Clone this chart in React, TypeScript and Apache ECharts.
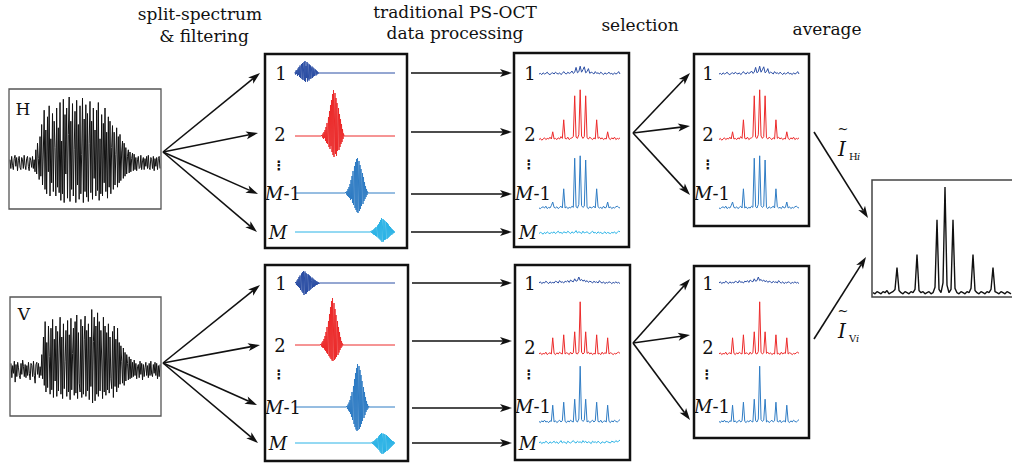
import { useEffect, useRef } from "react";
import * as echarts from "echarts";

const FONT = "DejaVu Serif";
const C_DARK = "#2b4ea4";
const C_RED = "#ec2a2a";
const C_MID = "#2f7cc4";
const C_LIGHT = "#2bb3e6";

// Raw interferogram signals (arbitrary amplitude units)
const H_SIGNAL = [
  3, -5, 6, -2, -6, 4, 7, -3, 5, -7, 2, 6, -4, -6, 5, 3, -5, 7, -2, -6, 4, 6, -3, -7, 5, 2, -4, 6, -5, 3,
  -8, 12, -10, 18, 4, -15, 24, -12,
  35, -20, 10, 48, -24, 30, -28, 42, -8, 52, -30, 22, -18, 45, -26, 38, 14, -30, 50, -22, 32, -27,
  55, -34, 20, -28, 58, -36, 44, -10, 50, -32, 26, 60, -35, 38, -24, 54, -30, 12, 47, -36, 57, -20, 35, -33, 52, -28, 8, 59, -36, 40,
  -26, 53, -31, 45, -35, 18, 56, -27, 38, -33, 50, -14, 30, -30, 48, -25, 55, -34, 22, -28, 44, -30, 36, -18, 50, -26, 28, -32, 42, -22,
  38, -28, 14, 34, -24, 28, -20, 8, 32, -22, 24, -18, 26, -16, 10, 20, -14, 18,
  -12, 14, -10, 6, 12, -9, 10, -8, 4, 9, -7, 8,
  -6, 5, -7, 3, 6, -5, -4, 7, -6, 2, 5, -6, 4, -3, 6, -5, 7, -4, -6, 5, 3, -5, 6, -7, 4, -3, 5, -6, 4, 6, -5,
];
const V_SIGNAL = [
  6, -7, 4, -3, 8, -11, 5, -6, 7, 2, -5, -8, 6, -4, 9, 3, -6, 5, -7, 4, -5, 7, -3, -9, 6, 4, -6, 8, -5, -12, 5, 7, -4, 6, -7, 3, -5,
  14, -8, 30, -14,
  44, -20, 25, -16, 40, 12, -22, 38, -18, 46, -25, 28, -10, 40, -24, 35, -19, 20, 48, -22, 30, -26, 42, -17, 8, 36, -24, 45,
  -20, 32, -27, 47, -18, 15, 38, -23, 44, -21, 50, -26, 34, -12, -20, 46, -25, 40, -22, 28, 49, -24, 36, -19, 42, -27, 30, -15,
  55, -30, 26, 48, -28, 40, -22, 52,
  -24, 44, -19, 36, 10, -26, 48, -20, 40, -23, 34, -18, 42, -21, 30, -8, -17, 35, -25, 40, -15, 28, -20, 38, -16, 25,
  -13, 22, 8, -12, 20, -14, 16, -10, 14, 6, -9, 12, -8, 10, -7,
  7, -6, 9, -5, 6, -8, 3, 5, -7, 8, -4, 6, -9, 5, -6, 2, 7, -5, 4, -7, 6, -5, 8, -4, -6, 5, -3, 7, -5, 6, -8, 4, -6, 5,
];

// Split-spectrum filtered bursts (units: 100 = strongest band), 2 samples per pixel
const A_LEN = 201;
const BURST_T1 = [2, -3, 5, -2, 6, -6, 9, -4, 12, -8, 15, -10, 10, 18, -12, 20, -14, 6, 22, -16, 24, -18, 14, -10, 22, -17, 19, -8, -15, 17, -12, 15, -11, 8, 13, -10, 11, -7, 9, -6, 4, 7, -5, 5, -3, 3, -2, 1];
const BURST_T2 = [2, -3, 5, -6, 8, -4, 12, -10, 18, -14, 26, -16, 10, 38, -22, 50, -26, 62, -20, 72, -32, 84, -38, 92, -42, 30, 86, -36, 76, -40, 66, -30, 20, 56, -28, 44, -22, 34, -16, 24, -12, 14, -6, 5];
const BURST_TM1 = [2, -3, 4, -6, 8, -8, 12, -10, 18, -14, 26, -12, 34, -20, 44, -24, 10, 54, -30, 62, -34, 68, -38, 70, -40, 24, 64, -36, 56, -32, 48, -26, 14, 40, -22, 32, -16, 22, -12, 14, -8, 8, -4, 3];
const BURST_TM = [1, -2, 3, -3, 4, -5, 6, -6, 8, -8, 10, -9, 4, 13, -11, 16, -13, 20, -15, 24, -17, 28, -20, 10, 26, -19, 24, -16, 22, -15, 6, 20, -14, 18, -12, 15, -10, 12, -8, 10, -6, 7, -5, 5, -3, 3, -2, 1];
const BURST_B1 = [2, -4, 5, -6, 8, -8, 12, -10, 15, -14, 6, 19, -17, 22, -20, 24, -24, 10, 23, -22, 20, -21, 18, -18, 8, 17, -16, 15, -14, 13, -12, 5, 11, -10, 9, -8, 7, -7, 6, -5, 4, -4, 3, -3, 2, -2, 1, -1];
const BURST_B2 = [2, -3, 5, -5, 8, -6, 12, -9, 18, -12, 26, -15, 36, -18, 12, 48, -22, 62, -25, 76, -28, 88, -31, 94, -32, 30, 84, -30, 72, -27, 60, -24, 14, 48, -20, 36, -15, 26, -10, 16, -6, 8, -3, 3];
const BURST_BM1 = [2, -4, 5, -7, 9, -10, 14, -14, 22, -20, 30, -26, 10, 42, -34, 56, -40, 68, -45, 78, -48, 86, -46, 20, 82, -44, 74, -40, 64, -34, 52, -28, 12, 40, -22, 30, -16, 20, -10, 12, -6, 6, -3, 2];
const BURST_BM = [1, -2, 3, -3, 4, -5, 6, -7, 8, -9, 10, -11, 4, 13, -14, 16, -17, 18, -20, 20, -22, 8, 19, -21, 18, -19, 17, -18, 6, 16, -16, 14, -14, 12, -12, 10, -10, 8, -8, 6, -6, 4, -4, 3, -2, 1];
const TOP_BURST_START = [0, 54, 102, 152];
const BOT_BURST_START = [2, 52, 104, 154];

// Processed depth profiles (units: 100 = full scale)
const TOP_ROW1 = [5, 6, 4, 7, 5, 6, 8, 5, 4, 6, 7, 5, 8, 6, 5, 7, 4, 6, 9, 6, 5, 8, 6, 7, 10, 6, 8, 16, 7, 9, 18, 8, 12, 17, 7, 9, 14, 6, 8, 7, 5, 9, 6, 7, 5, 8, 6, 4, 7, 5, 6, 8, 5, 6, 4, 7, 5, 6, 9, 5];
const TOP_ROW2 = [4, 6, 3, 5, 7, 4, 6, 5, 8, 5, 17, 5, 6, 4, 7, 5, 9, 6, 37, 6, 5, 8, 4, 6, 7, 9, 77, 8, 6, 12, 87, 10, 6, 9, 77, 7, 5, 8, 6, 4, 7, 5, 37, 6, 8, 5, 7, 4, 6, 5, 17, 6, 4, 7, 5, 8, 4, 6, 5, 7];
const TOP_ROWM1 = [5, 4, 6, 7, 5, 8, 4, 6, 5, 9, 15, 6, 5, 7, 4, 6, 8, 5, 37, 5, 7, 4, 6, 5, 8, 6, 88, 7, 5, 11, 92, 9, 6, 8, 85, 6, 4, 7, 5, 6, 8, 5, 37, 7, 5, 6, 4, 8, 5, 6, 15, 5, 7, 4, 6, 5, 7, 8, 6, 5];
const TOP_ROWM = [4, 6, 5, 3, 6, 4, 7, 5, 4, 6, 5, 7, 4, 6, 8, 5, 6, 4, 7, 6, 5, 8, 6, 4, 7, 5, 6, 9, 5, 7, 6, 4, 8, 5, 6, 7, 5, 4, 6, 8, 5, 6, 4, 7, 5, 6, 4, 5, 7, 4, 6, 5, 4, 6, 5, 7, 4, 6, 8, 7];
const BOT_ROW1 = [5, 7, 4, 6, 5, 8, 6, 4, 7, 5, 6, 5, 8, 7, 5, 9, 6, 7, 5, 8, 7, 9, 6, 10, 8, 7, 12, 8, 9, 15, 9, 11, 8, 10, 7, 9, 6, 8, 7, 5, 8, 6, 7, 5, 9, 6, 5, 7, 4, 6, 5, 7, 6, 4, 6, 5, 7, 5, 6, 4];
const BOT_ROW2 = [5, 7, 4, 6, 5, 8, 4, 6, 7, 5, 32, 6, 4, 7, 5, 8, 6, 5, 37, 5, 7, 6, 4, 8, 5, 7, 42, 6, 5, 9, 92, 8, 5, 7, 42, 6, 8, 5, 7, 4, 6, 5, 37, 5, 6, 4, 8, 5, 7, 6, 32, 5, 7, 6, 4, 6, 5, 7, 8, 6];
const BOT_ROWM1 = [6, 4, 7, 5, 8, 5, 6, 4, 7, 6, 33, 5, 7, 4, 6, 8, 5, 7, 38, 6, 4, 7, 5, 8, 6, 5, 43, 7, 5, 10, 98, 9, 6, 8, 43, 5, 7, 4, 6, 8, 5, 7, 38, 6, 5, 8, 4, 6, 7, 5, 33, 6, 4, 7, 5, 8, 6, 5, 7, 9];
const BOT_ROWM = [5, 7, 4, 6, 5, 8, 6, 4, 7, 5, 6, 8, 5, 7, 4, 6, 9, 5, 7, 6, 4, 8, 6, 5, 7, 9, 6, 5, 8, 6, 7, 5, 9, 6, 8, 5, 7, 6, 4, 8, 6, 7, 5, 8, 6, 4, 7, 6, 5, 8, 7, 6, 5, 8, 7, 6, 9, 7, 8, 10];

// Averaged result
const AVERAGE = [3, 2, 4, 3, 2, 4, 3, 5, 2, 3, 4, 6, 26, 5, 3, 2, 4, 3, 2, 4, 3, 6, 38, 5, 3, 4, 2, 3, 4, 2, 3, 8, 70, 6, 3, 12, 100, 10, 3, 6, 70, 7, 3, 2, 4, 3, 2, 4, 3, 7, 38, 5, 3, 2, 4, 3, 2, 4, 3, 6, 26, 4, 3, 2, 4, 3, 2, 4, 3, 2];

// Labels
const TITLES = ["split-spectrum", "& filtering", "traditional PS-OCT", "data processing", "selection", "average"];
const ROW_LABELS = ["1", "2", "M-1", "M"];

export default function App() {
  const ref = useRef<HTMLDivElement>(null);
  useEffect(() => {
    document.body.style.margin = "0";
    const chart = echarts.init(ref.current!, null, { renderer: "svg" });
    const grid: any[] = [];
    const xAxis: any[] = [];
    const yAxis: any[] = [];
    const series: any[] = [];
    const els: any[] = [];

    const addTrace = (left: number, right: number, top: number, bottom: number, min: number, max: number, values: number[], color: string, width = 1) => {
      const i = grid.length;
      grid.push({ left, top, width: right - left, height: bottom - top, containLabel: false });
      xAxis.push({ type: "value", gridIndex: i, min: 0, max: values.length - 1, show: false });
      yAxis.push({ type: "value", gridIndex: i, min, max, show: false });
      series.push({
        type: "line", xAxisIndex: i, yAxisIndex: i, symbol: "none", silent: true,
        data: values.map((v, k) => [k, v]),
        lineStyle: { color, width },
      });
    };
    const burstTrace = (burst: number[], start: number) =>
      Array.from({ length: A_LEN }, (_, k) => (k >= start && k < start + burst.length ? burst[k - start] : 0));

    const rect = (x1: number, y1: number, x2: number, y2: number, stroke: string, lw: number) => {
      els.push({ type: "rect", z: 50, shape: { x: x1, y: y1, width: x2 - x1, height: y2 - y1 }, style: { fill: "none", stroke, lineWidth: lw } });
    };
    const text = (x: number, y: number, t: string, size: number, extra: any = {}) => {
      els.push({
        type: "text", z: 60, x, y,
        style: {
          text: t, fontSize: size, fontFamily: FONT, fill: "#111",
          align: "center", verticalAlign: "middle", textAlign: "center", textVerticalAlign: "middle",
          ...extra,
        },
      });
    };
    const rowLabel = (x: number, y: number, lab: string) => {
      if (lab === "M-1") {
        text(x, y, "{i|M}-1", 18, { rich: { i: { fontStyle: "italic", fontSize: 18, fontFamily: FONT, fill: "#111" } } });
      } else if (lab === "M") {
        text(x, y, "M", 18, { fontStyle: "italic" });
      } else {
        text(x, y, lab, 18);
      }
    };
    const dots = (x: number, y: number) => text(x, y, "⋮", 13, { fontFamily: "DejaVu Sans", fontWeight: "bold" });
    const arrow = (x1: number, y1: number, x2: number, y2: number) => {
      const dx = x2 - x1, dy = y2 - y1, L = Math.hypot(dx, dy);
      const ux = dx / L, uy = dy / L, px = -uy, py = ux;
      const hl = 12, hw = 4, notch = 3;
      const bx = x2 - ux * hl, by = y2 - uy * hl;
      const nx = x2 - ux * (hl - notch), ny = y2 - uy * (hl - notch);
      els.push({ type: "line", z: 55, shape: { x1, y1, x2: nx, y2: ny }, style: { stroke: "#111", lineWidth: 1.6 } });
      els.push({ type: "polygon", z: 55, shape: { points: [[x2, y2], [bx + px * hw, by + py * hw], [nx, ny], [bx - px * hw, by - py * hw]] }, style: { fill: "#111", stroke: "none" } });
    };

    // Input signals
    addTrace(10, 160, 97, 229, -60, 60, H_SIGNAL, "#111", 1);
    addTrace(11, 160, 304, 436, -60, 60, V_SIGNAL, "#111", 1);
    rect(9, 89, 161, 209, "#555", 1.3);
    rect(10, 297, 161, 416, "#555", 1.3);
    text(23, 109, "H", 17);
    text(24, 314, "V", 17);

    // Split-spectrum boxes
    const colors = [C_DARK, C_RED, C_MID, C_LIGHT];
    const topBursts = [BURST_T1, BURST_T2, BURST_TM1, BURST_TM];
    const botBursts = [BURST_B1, BURST_B2, BURST_BM1, BURST_BM];
    const aTopBase = [73, 136, 193, 232];
    const aBotBase = [283, 345, 407, 443];
    const addBurst = (b: number[], start: number, base: number, i: number) => {
      if (i < 3) addTrace(295, 395, base - 50, base + 30, -60, 100, burstTrace(b, start), colors[i], 1);
      else addTrace(295, 395, base - 20, base + 20, -40, 40, burstTrace(b, start), colors[i], 1);
    };
    topBursts.forEach((b, i) => addBurst(b, TOP_BURST_START[i], aTopBase[i], i));
    botBursts.forEach((b, i) => addBurst(b, BOT_BURST_START[i], aBotBase[i], i));
    rect(265, 54, 407, 248, "#111", 2.5);
    rect(265, 265, 408, 461, "#111", 2.5);
    const aLabX = [281, 280, 283, 278];
    ROW_LABELS.forEach((l, i) => rowLabel(aLabX[i], aTopBase[i] + (i === 1 ? -2 : 0), l));
    ROW_LABELS.forEach((l, i) => rowLabel(aLabX[i], aBotBase[i], l));
    dots(279, 165);
    dots(279, 374);

    // Traditional PS-OCT boxes
    const topProfiles = [TOP_ROW1, TOP_ROW2, TOP_ROWM1, TOP_ROWM];
    const botProfiles = [BOT_ROW1, BOT_ROW2, BOT_ROWM1, BOT_ROWM];
    const bTopBottom = [77, 142, 211, 236];
    const bBotBottom = [286, 357, 425, 446];
    topProfiles.forEach((d, i) => addTrace(539, 620, bTopBottom[i] - 60, bTopBottom[i], 0, 100, d, colors[i], 1));
    botProfiles.forEach((d, i) => addTrace(539, 620, bBotBottom[i] - 60, bBotBottom[i], 0, 100, d, colors[i], 1));
    rect(514, 53, 629, 247, "#111", 2.5);
    rect(515, 265, 630, 460, "#111", 2.5);
    const bLabX = [530, 530, 533, 528];
    const bTopLabY = [73, 134, 193, 232];
    const bBotLabY = [283, 347, 406, 443];
    ROW_LABELS.forEach((l, i) => rowLabel(bLabX[i], bTopLabY[i], l));
    ROW_LABELS.forEach((l, i) => rowLabel(bLabX[i], bBotLabY[i], l));
    dots(529, 164);
    dots(529, 374);

    // Selection boxes
    for (let i = 0; i < 3; i++) {
      addTrace(719, 799, bTopBottom[i] - 60, bTopBottom[i], 0, 100, topProfiles[i], colors[i], 1);
      addTrace(719, 799, bBotBottom[i] - 60, bBotBottom[i], 0, 100, botProfiles[i], colors[i], 1);
    }
    rect(694, 54, 809, 226, "#111", 2.5);
    rect(694, 266, 809, 438, "#111", 2.5);
    const cLabX = [708, 708, 712];
    for (let i = 0; i < 3; i++) {
      rowLabel(cLabX[i], bTopLabY[i], ROW_LABELS[i]);
      rowLabel(cLabX[i], bBotLabY[i], ROW_LABELS[i]);
    }
    dots(708, 164);
    dots(707, 374);

    // Average box
    addTrace(873, 1011, 187, 296, 0, 100, AVERAGE, "#111", 1.4);
    els.push({ type: "polyline", z: 50, shape: { points: [[1015, 180], [872, 180], [872, 297], [1015, 297]] }, style: { fill: "none", stroke: "#444", lineWidth: 1.5 } });

    // Arrows
    [[260, 73], [258, 133], [258, 194], [257, 232]].forEach(([x, y]) => arrow(163, 152, x, y));
    [[260, 285], [260, 345], [257, 405], [258, 443]].forEach(([x, y]) => arrow(163, 363, x, y));
    [73, 132, 194, 232].forEach((y) => arrow(411, y, 512, y));
    [283, 341, 408, 443].forEach((y) => arrow(412, y, 512, y));
    [[690, 73], [690, 126], [690, 195]].forEach(([x, y]) => arrow(633, 133, x, y));
    [[690, 279], [690, 335], [690, 420]].forEach(([x, y]) => arrow(633, 343, x, y));
    arrow(814, 132, 868, 218);
    arrow(814, 339, 866, 257);

    // Titles
    text(200, 14, TITLES[0], 17);
    text(204, 36, TITLES[1], 17);
    text(455, 12, TITLES[2], 17);
    text(455, 33, TITLES[3], 17);
    text(640, 25, TITLES[4], 17);
    text(827, 29, TITLES[5], 17);

    // Averaged intensity symbols
    text(842, 149, "I", 20, { fontStyle: "italic" });
    text(849, 156, "H", 10, { align: "left", textAlign: "left" });
    text(857, 156, "i", 10, { align: "left", textAlign: "left", fontStyle: "italic" });
    text(843, 128, "~", 13);
    text(842, 331, "I", 20, { fontStyle: "italic" });
    text(849, 338, "V", 10, { align: "left", textAlign: "left" });
    text(856, 338, "i", 10, { align: "left", textAlign: "left", fontStyle: "italic" });
    text(843, 310, "~", 13);

    chart.setOption({
      animation: false,
      backgroundColor: "#fff",
      grid, xAxis, yAxis, series,
      graphic: { elements: els },
    });
    return () => chart.dispose();
  }, []);
  return <div ref={ref} style={{ width: 1012, height: 466 }} />;
}
